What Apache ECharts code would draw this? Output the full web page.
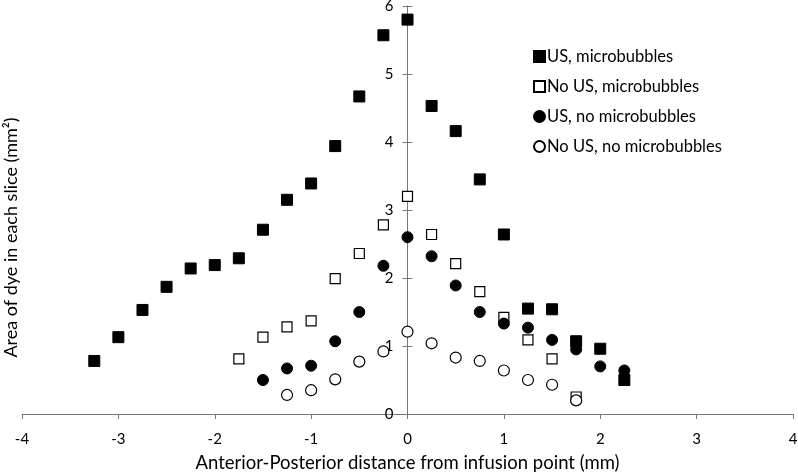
<!DOCTYPE html>
<html>
<head>
<meta charset="utf-8">
<script src="https://cdn.jsdelivr.net/npm/echarts@6/dist/echarts.min.js"></script>
<style>html,body{margin:0;padding:0;background:#fff}#c{width:798px;height:475px}</style>
</head>
<body>
<div id="c"></div>
<script>
const seriesNames = ["US, microbubbles", "No US, microbubbles", "US, no microbubbles", "No US, no microbubbles"];
const xAxisTitle = 'Anterior-Posterior distance from infusion point (mm)';
const yAxisTitle = 'Area of dye in each slice (mm²)';

const usMbX = [-3.25,-3,-2.75,-2.5,-2.25,-2,-1.75,-1.5,-1.25,-1,-0.75,-0.5,-0.25,0,0.25,0.5,0.75,1,1.25,1.5,1.75,2,2.25];
const usMbY = [0.78,1.13,1.53,1.87,2.14,2.19,2.29,2.71,3.15,3.39,3.94,4.67,5.57,5.80,4.53,4.16,3.45,2.64,1.55,1.54,1.07,0.96,0.50];

const noUsMbX = [-1.75,-1.5,-1.25,-1,-0.75,-0.5,-0.25,0,0.25,0.5,0.75,1,1.25,1.5,1.75];
const noUsMbY = [0.81,1.13,1.28,1.37,1.99,2.36,2.78,3.20,2.64,2.21,1.80,1.42,1.09,0.81,0.25];

const usNoMbX = [-1.5,-1.25,-1,-0.75,-0.5,-0.25,0,0.25,0.5,0.75,1,1.25,1.5,1.75,2,2.25];
const usNoMbY = [0.50,0.67,0.71,1.07,1.50,2.18,2.60,2.32,1.89,1.50,1.33,1.27,1.09,0.95,0.70,0.64];

const noUsNoMbX = [-1.25,-1,-0.75,-0.5,-0.25,0,0.25,0.5,0.75,1,1.25,1.5,1.75];
const noUsNoMbY = [0.28,0.35,0.51,0.77,0.92,1.21,1.04,0.83,0.78,0.64,0.50,0.43,0.20];

function pairs(xs, ys){ return xs.map((x,i)=>[x, ys[i]]); }

const FONT = 'Lato';
const GRID_L = 22, GRID_R = 5, W = 798;
const Y_OFFSET = -(W - GRID_L - GRID_R) / 2;
const chart = echarts.init(document.getElementById('c'), null, {renderer:'canvas'});
const mk = (name, xs, ys, symbol, filled, size) => ({
  name, type:'scatter', data: pairs(xs, ys), symbol, symbolSize: size,
  itemStyle: filled ? {color:'#000', borderColor:'#000', borderWidth:1, opacity:1}
                    : {color:'#fff', borderColor:'#000', borderWidth:1.2, opacity:1},
  emphasis:{disabled:true}
});
chart.setOption({
  animation:false,
  backgroundColor:'#fff',
  textStyle:{fontFamily:FONT},
  grid:{left:GRID_L, right:GRID_R, top:6, bottom:61, outerBoundsMode:'none', containLabel:false},
  graphic:[{
    type:'text', left:2, top:'center', rotation:Math.PI/2,
    style:{text:yAxisTitle, font:'18px Lato', fill:'#000'}
  }],
  legend:{
    orient:'vertical', left:528, top:43, itemWidth:11, itemHeight:11, itemGap:13,
    data: seriesNames,
    textStyle:{fontFamily:FONT, fontSize:16.5, color:'#000', padding:[0,0,0,-3]}
  },
  xAxis:{
    type:'value', min:-4, max:4, interval:1,
    name:xAxisTitle, nameLocation:'middle', nameGap:40,
    nameTextStyle:{fontFamily:FONT, fontSize:18.5, color:'#000'},
    axisLine:{onZero:false, lineStyle:{color:'#777', width:1}},
    axisTick:{show:true, length:5, lineStyle:{color:'#777'}},
    axisLabel:{fontFamily:FONT, fontSize:15, color:'#000', margin:18},
    splitLine:{show:false}
  },
  yAxis:[{
    type:'value', min:0, max:6, interval:1, position:'left', offset: Y_OFFSET,
    axisLine:{show:true, onZero:false, lineStyle:{color:'#777', width:1}},
    axisTick:{show:true, length:5, lineStyle:{color:'#777'}},
    axisLabel:{fontFamily:FONT, fontSize:15, color:'#000', margin:14},
    splitLine:{show:false}
  },{
    type:'value', min:0, max:6, interval:1, position:'left', offset: Y_OFFSET,
    axisLine:{show:false, onZero:false},
    axisTick:{show:true, inside:true, length:5, lineStyle:{color:'#777'}},
    axisLabel:{show:false},
    splitLine:{show:false}
  }],
  series:[
    mk(seriesNames[0], usMbX, usMbY, 'rect', true, 11),
    mk(seriesNames[1], noUsMbX, noUsMbY, 'rect', false, 10),
    mk(seriesNames[2], usNoMbX, usNoMbY, 'circle', true, 11),
    mk(seriesNames[3], noUsNoMbX, noUsNoMbY, 'circle', false, 11)
  ]
});
</script>
</body>
</html>
